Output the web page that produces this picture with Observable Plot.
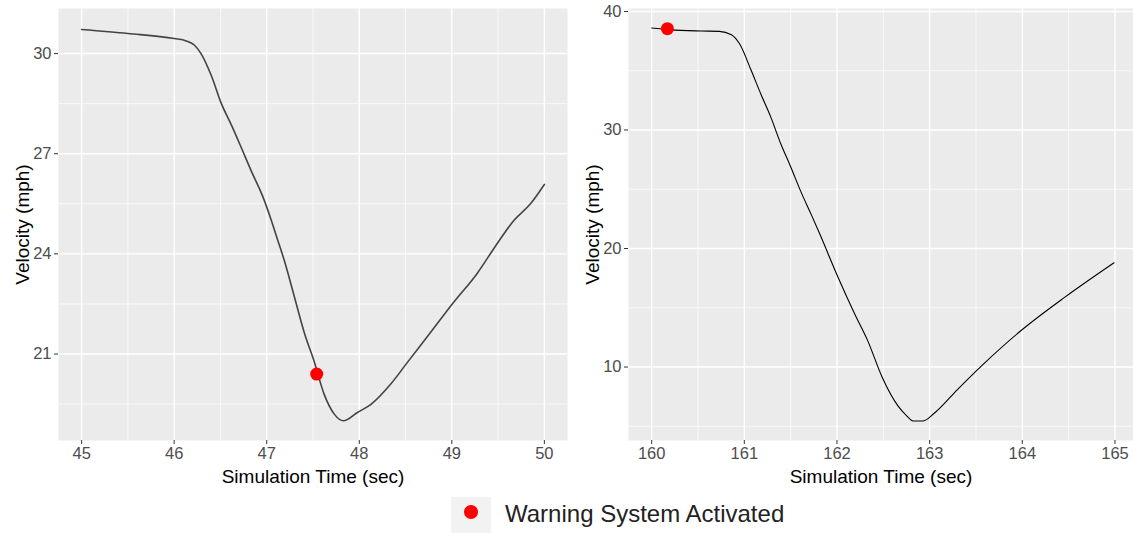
<!DOCTYPE html>
<html>
<head>
<meta charset="utf-8">
<script src="https://cdn.jsdelivr.net/npm/d3@7"></script>
<script src="https://cdn.jsdelivr.net/npm/@observablehq/plot@0.6"></script>
<style>
  html, body { margin: 0; padding: 0; background: #fff; }
  #wrap { position: relative; width: 1133px; height: 533px; overflow: hidden; font-family: "Liberation Sans", Arial, sans-serif; }
  #left, #right { position: absolute; top: 0; }
  #left { left: 0; }
  #right { left: 570px; }
  #key { position: absolute; left: 451px; top: 497px; width: 40px; height: 40px; background: #F2F2F2; }
  #key span { position: absolute; left: 13px; top: 8px; width: 14px; height: 14px; border-radius: 50%; background: #FF0000; }
  #legtext { position: absolute; left: 505px; top: 500px; font-size: 24px; line-height: 28px; color: #222; }
</style>
</head>
<body>
<div id="wrap">
  <div id="left"></div>
  <div id="right"></div>
  <div id="key"><span></span></div>
  <div id="legtext">Warning System Activated</div>
</div>
<script>
// ---- Data: left panel ----
const leftTime = [45.0, 45.5, 46.0, 46.13, 46.22, 46.29, 46.4, 46.51, 46.62, 46.73, 46.83, 46.96, 47.05, 47.12, 47.19, 47.30, 47.41, 47.51, 47.62, 47.73, 47.83, 47.98, 48.13, 48.34, 48.52, 48.73, 49.02, 49.27, 49.5, 49.67, 49.85, 50.0];
const leftVelocity = [30.72, 30.6, 30.45, 30.38, 30.25, 30.0, 29.35, 28.5, 27.85, 27.15, 26.5, 25.7, 25.0, 24.4, 23.8, 22.7, 21.6, 20.8, 19.8, 19.2, 19.0, 19.25, 19.5, 20.1, 20.75, 21.5, 22.55, 23.4, 24.35, 25.0, 25.5, 26.08];
const leftWarningTime = [47.54];
const leftWarningVelocity = [20.4];
const leftXTicks = [45, 46, 47, 48, 49, 50];
const leftXMinor = [45.5, 46.5, 47.5, 48.5, 49.5];
const leftYTicks = [21, 24, 27, 30];
const leftYMinor = [19.5, 22.5, 25.5, 28.5];

// ---- Data: right panel ----
const rightTime = [160.0, 160.2, 160.53, 160.73, 160.86, 160.95, 161.07, 161.18, 161.29, 161.39, 161.5, 161.61, 161.72, 161.81, 162.01, 162.19, 162.33, 162.49, 162.66, 162.75, 162.82, 162.93, 163.05, 163.30, 163.56, 163.99, 164.46, 164.99];
const rightVelocity = [38.6, 38.45, 38.35, 38.32, 38.04, 37.25, 35.1, 33.0, 31.0, 28.9, 26.9, 24.8, 22.9, 21.3, 17.6, 14.5, 12.25, 9.1, 6.7, 5.9, 5.45, 5.45, 6.1, 8.1, 10.1, 13.1, 15.9, 18.8];
const rightWarningTime = [160.17];
const rightWarningVelocity = [38.55];
const rightXTicks = [160, 161, 162, 163, 164, 165];
const rightXMinor = [160.5, 161.5, 162.5, 163.5, 164.5];
const rightYTicks = [10, 20, 30, 40];
const rightYMinor = [5, 15, 25, 35];

const xTitle = "Simulation Time (sec)";
const yTitle = "Velocity (mph)";

function panel(cfg) {
  const series = cfg.time.map((t, i) => ({t, v: cfg.vel[i]}));
  const warn = cfg.wt.map((t, i) => ({t, v: cfg.wv[i]}));
  return Plot.plot({
    width: cfg.width,
    height: 490,
    marginLeft: 58,
    marginRight: cfg.marginRight,
    marginTop: 8,
    marginBottom: 50,
    style: {fontFamily: "'Liberation Sans', Arial, sans-serif", background: "transparent", overflow: "visible"},
    x: {domain: cfg.xDomain},
    y: {domain: cfg.yDomain},
    marks: [
      Plot.frame({fill: "#EBEBEB", stroke: null}),
      Plot.gridX(cfg.xMinor, {stroke: "#fff", strokeOpacity: 1, strokeWidth: 0.7}),
      Plot.gridY(cfg.yMinor, {stroke: "#fff", strokeOpacity: 1, strokeWidth: 0.7}),
      Plot.gridX(cfg.xTicks, {stroke: "#fff", strokeOpacity: 1, strokeWidth: 1.4}),
      Plot.gridY(cfg.yTicks, {stroke: "#fff", strokeOpacity: 1, strokeWidth: 1.4}),
      Plot.axisX(cfg.xTicks, {tickSize: 4, tickPadding: 3, fontSize: 16.5, color: "#4D4D4D", stroke: "#333", label: null}),
      Plot.axisY(cfg.yTicks, {tickSize: 4, tickPadding: 3, fontSize: 16.5, color: "#4D4D4D", stroke: "#333", label: null}),
      Plot.lineY(series, {x: "t", y: "v", stroke: cfg.lineColor, strokeWidth: cfg.lineWidth, curve: "monotone-x"}),
      Plot.dot(warn, {x: "t", y: "v", r: 6.5, fill: "#FF0000", stroke: null}),
      Plot.text([xTitle], {frameAnchor: "bottom", dy: 36, text: d => d, fontSize: 19, fill: "#000", lineAnchor: "middle"}),
      Plot.text([yTitle], {frameAnchor: "left", dx: -36, rotate: -90, text: d => d, fontSize: 19, fill: "#000", lineAnchor: "middle", textAnchor: "middle"})
    ]
  });
}

document.getElementById("left").appendChild(panel({
  width: 570, marginRight: 3,
  time: leftTime, vel: leftVelocity, wt: leftWarningTime, wv: leftWarningVelocity,
  xDomain: [44.75, 50.25], yDomain: [18.41, 31.35],
  xTicks: leftXTicks, xMinor: leftXMinor, yTicks: leftYTicks, yMinor: leftYMinor,
  lineColor: "#444", lineWidth: 1.6
}));

document.getElementById("right").appendChild(panel({
  width: 563, marginRight: 0,
  time: rightTime, vel: rightVelocity, wt: rightWarningTime, wv: rightWarningVelocity,
  xDomain: [159.75, 165.2], yDomain: [3.8, 40.25],
  xTicks: rightXTicks, xMinor: rightXMinor, yTicks: rightYTicks, yMinor: rightYMinor,
  lineColor: "#000", lineWidth: 1.1
}));
</script>
</body>
</html>
